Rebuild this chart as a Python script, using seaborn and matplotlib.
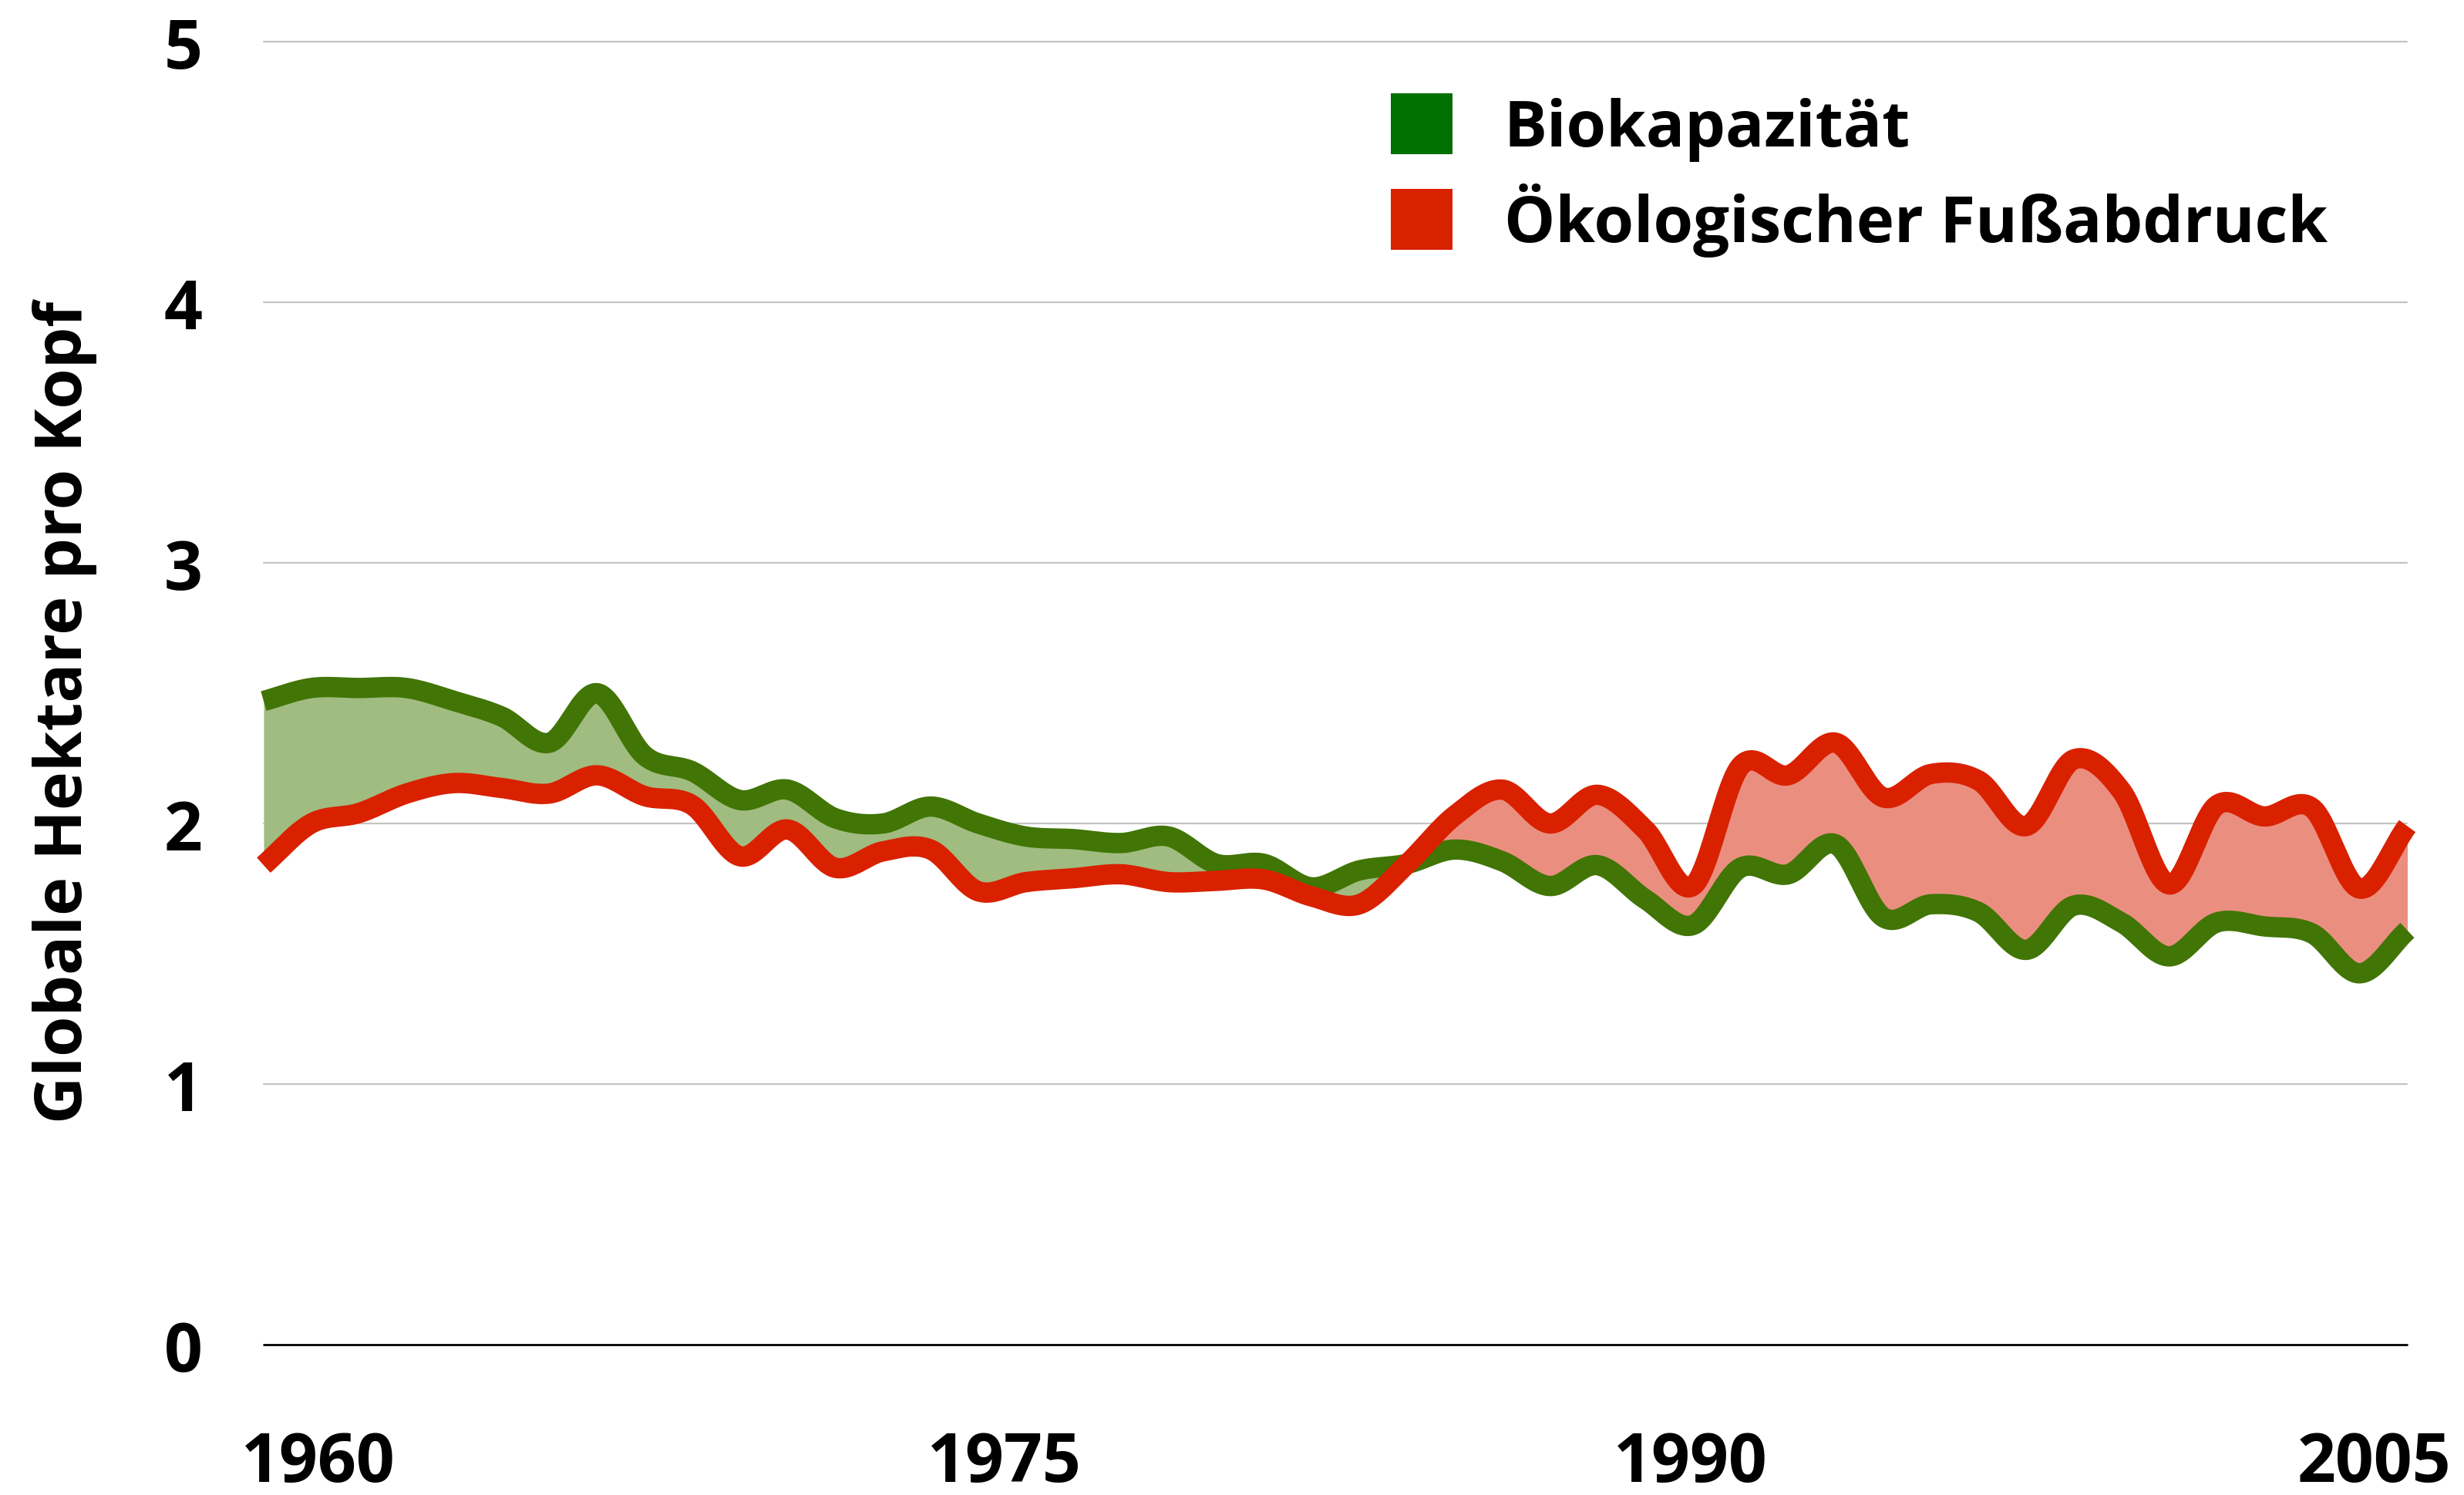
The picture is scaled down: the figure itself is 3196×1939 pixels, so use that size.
import numpy as np
import pandas as pd
import matplotlib
matplotlib.use("Agg")
import matplotlib.pyplot as plt
import matplotlib.transforms as mtransforms
import seaborn as sns
from matplotlib.patches import Patch

years = list(range(1960, 2006))
biokapazitaet = [2.47, 2.52, 2.52, 2.52, 2.47, 2.41, 2.31, 2.50, 2.26, 2.20,
                 2.09, 2.13, 2.02, 2.00, 2.065, 2.00, 1.95, 1.94, 1.925, 1.95,
                 1.845, 1.845, 1.755, 1.82, 1.845, 1.90, 1.855, 1.76, 1.84, 1.71,
                 1.61, 1.83, 1.805, 1.92, 1.64, 1.69, 1.66, 1.515, 1.685, 1.62,
                 1.49, 1.62, 1.605, 1.578, 1.425, 1.59]
fussabdruck = [1.84, 2.00, 2.04, 2.115, 2.155, 2.136, 2.115, 2.185, 2.105, 2.07,
               1.874, 1.977, 1.83, 1.893, 1.90, 1.74, 1.775, 1.79, 1.805, 1.775,
               1.78, 1.785, 1.72, 1.69, 1.844, 2.03, 2.13, 2.00, 2.11, 1.977,
               1.76, 2.22, 2.185, 2.31, 2.10, 2.19, 2.165, 1.99, 2.246, 2.125,
               1.766, 2.07, 2.027, 2.06, 1.75, 1.99]
series_names = ["Biokapazität", "Ökologischer Fußabdruck"]
y_ticks = [0, 1, 2, 3, 4, 5]
x_ticks = [1960, 1975, 1990, 2005]
y_label = "Globale Hektare pro Kopf"

GREEN_LINE = "#417505"
RED_LINE = "#d92100"
GREEN_FILL = "#a0bc80"
RED_FILL = "#ea8f80"
GREEN_LEGEND = "#007000"


def catmull_rom(x, y, n=24):
    """Smooth rendering of the yearly points (curve passes through every point)."""
    x = np.asarray(x, float)
    y = np.asarray(y, float)
    xp = np.concatenate([[2 * x[0] - x[1]], x, [2 * x[-1] - x[-2]]])
    yp = np.concatenate([[2 * y[0] - y[1]], y, [2 * y[-1] - y[-2]]])
    xs, ys = [], []
    t = np.linspace(0, 1, n, endpoint=False)
    for i in range(1, len(xp) - 2):
        p0, p1, p2, p3 = yp[i - 1], yp[i], yp[i + 1], yp[i + 2]
        q0, q1, q2, q3 = xp[i - 1], xp[i], xp[i + 1], xp[i + 2]
        ys.append(0.5 * ((2 * p1) + (-p0 + p2) * t + (2 * p0 - 5 * p1 + 4 * p2 - p3) * t ** 2
                         + (-p0 + 3 * p1 - 3 * p2 + p3) * t ** 3))
        xs.append(0.5 * ((2 * q1) + (-q0 + q2) * t + (2 * q0 - 5 * q1 + 4 * q2 - q3) * t ** 2
                         + (-q0 + 3 * q1 - 3 * q2 + q3) * t ** 3))
    xs.append([x[-1]])
    ys.append([y[-1]])
    return np.concatenate(xs), np.concatenate(ys)


sns.set_theme(style="white")
plt.rcParams["font.family"] = ["Open Sans", "DejaVu Sans"]
plt.rcParams["font.weight"] = "bold"
plt.rcParams["text.color"] = "black"
plt.rcParams["axes.labelcolor"] = "black"
plt.rcParams["xtick.color"] = "black"
plt.rcParams["ytick.color"] = "black"

FS = 63

fig = plt.figure(figsize=(31.96, 19.40), dpi=100)
ax = fig.add_axes([0.107, 0.1005, 0.870, 0.8711])

xb, yb = catmull_rom(years, biokapazitaet)
xf, yf = catmull_rom(years, fussabdruck)

df = pd.concat([
    pd.DataFrame({"Jahr": xb, "Wert": yb, "Serie": series_names[0]}),
    pd.DataFrame({"Jahr": xf, "Wert": yf, "Serie": series_names[1]}),
])

ax.fill_between(xb, yb, yf, where=yb >= yf, interpolate=True,
                color=GREEN_FILL, linewidth=0, zorder=1)
ax.fill_between(xb, yb, yf, where=yf >= yb, interpolate=True,
                color=RED_FILL, linewidth=0, zorder=1)

sns.lineplot(data=df, x="Jahr", y="Wert", hue="Serie", sort=False, estimator=None,
             palette={series_names[0]: GREEN_LINE, series_names[1]: RED_LINE},
             linewidth=19, legend=False, ax=ax)
for ln in ax.get_lines():
    ln.set_solid_capstyle("butt")
    ln.set_solid_joinstyle("round")
    ln.set_clip_on(False)
    ln.set_zorder(3)
ax.get_lines()[1].set_zorder(4)

ax.set_xlim(1960, 2005)
ax.set_ylim(0, 5)
ax.set_yticks(y_ticks)
ax.set_yticklabels([str(v) for v in y_ticks])
ax.set_xticks(x_ticks)
ax.set_xticklabels([str(v) for v in x_ticks])
ax.tick_params(axis="both", length=0, labelsize=FS, labelcolor="black")
ax.tick_params(axis="y", pad=75)
ax.tick_params(axis="x", pad=79)
for lab in ax.get_yticklabels():
    lab.set_horizontalalignment("center")
    lab.set_fontweight("bold")
# the year labels in the original are spread slightly inward from the tick positions
label_shift_px = [71, 34, -3, -43]
for lab, dxp in zip(ax.get_xticklabels(), label_shift_px):
    lab.set_fontweight("bold")
    lab.set_transform(lab.get_transform() +
                      mtransforms.ScaledTranslation(dxp / 100.0, 0, fig.dpi_scale_trans))

ax.grid(False)
for v in y_ticks[1:]:
    ax.axhline(v, color="#c4c4c4", linewidth=1.6, zorder=0, clip_on=False)
ax.axhline(0, color="black", linewidth=2.0, zorder=2, clip_on=False)
for s in ax.spines.values():
    s.set_visible(False)

ax.set_xlabel("")
ax.set_ylabel(y_label, fontsize=61, fontweight="bold", color="black")
ax.yaxis.set_label_coords(-0.0775, 0.486)

handles = [Patch(facecolor=GREEN_LEGEND, edgecolor="none", label=series_names[0]),
           Patch(facecolor=RED_LINE, edgecolor="none", label=series_names[1])]
leg = ax.legend(handles=handles, loc="upper left", bbox_to_anchor=(0.5645, 0.937),
                bbox_transform=fig.transFigure, frameon=False,
                handlelength=0.96, handleheight=1.08, handletextpad=0.80,
                labelspacing=0.33, borderpad=0, borderaxespad=0,
                prop={"weight": "bold", "size": 60})
for t in leg.get_texts():
    t.set_color("black")

fig.savefig("out.png", dpi=100)
